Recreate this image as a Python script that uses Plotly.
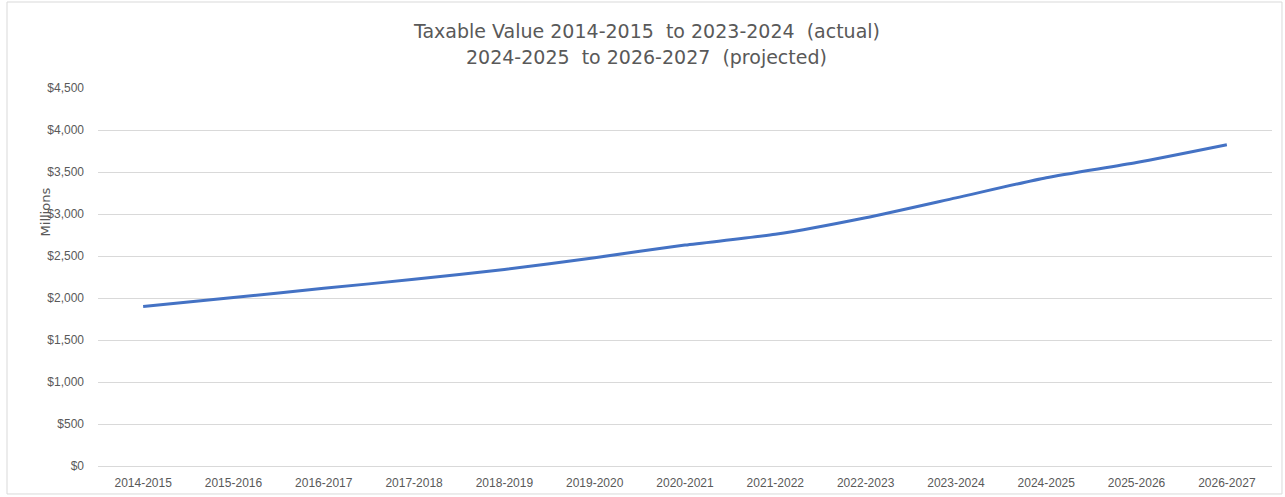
import plotly.graph_objects as go

# Fiscal years and taxable value (millions of dollars)
fiscal_years = [
    "2014-2015", "2015-2016", "2016-2017", "2017-2018", "2018-2019",
    "2019-2020", "2020-2021", "2021-2022", "2022-2023", "2023-2024",
    "2024-2025", "2025-2026", "2026-2027",
]
taxable_value = [1900, 2005, 2115, 2222, 2340, 2480, 2630, 2758, 2955, 3192, 3432, 3612, 3824]

y_ticks = [0, 500, 1000, 1500, 2000, 2500, 3000, 3500, 4000, 4500]
y_tick_labels = ["$0", "$500", "$1,000", "$1,500", "$2,000", "$2,500",
                 "$3,000", "$3,500", "$4,000", "$4,500"]

title_lines = [
    "Taxable Value 2014-2015  to 2023-2024  (actual)",
    "2024-2025  to 2026-2027  (projected)",
]

text_gray = "#595959"
grid_gray = "#D9D9D9"

fig = go.Figure()
fig.add_trace(go.Scatter(
    x=fiscal_years,
    y=taxable_value,
    mode="lines",
    line=dict(color="#4472C4", width=3, shape="spline", smoothing=0.6),
    hoverinfo="x+y",
))

title_font = dict(family="DejaVu Sans, Verdana, sans-serif", size=19, color=text_gray)
annotations = [
    dict(
        text=line,
        xref="paper", yref="paper",
        x=0.4672, y=y_pos,
        xanchor="center", yanchor="middle",
        showarrow=False,
        font=title_font,
    )
    for line, y_pos in zip(title_lines, [1.1508, 1.082])
]
annotations.append(
    dict(
        text="Millions",
        xref="paper", yref="paper",
        x=-0.0439, y=0.672,
        xanchor="center", yanchor="middle",
        textangle=-90,
        showarrow=False,
        font=dict(family="DejaVu Sans, sans-serif", size=13, color=text_gray),
    )
)

fig.update_layout(
    width=1285,
    height=497,
    paper_bgcolor="white",
    plot_bgcolor="white",
    showlegend=False,
    margin=dict(l=98, r=13, t=88, b=31),
    font=dict(family="Liberation Sans, Arial, sans-serif", size=12, color=text_gray),
    xaxis=dict(
        type="category",
        automargin=False,
        showgrid=False,
        showline=True,
        linecolor=grid_gray,
        linewidth=1,
        ticks="",
        ticklabelstandoff=6,
        tickfont=dict(size=12, color=text_gray),
        range=[-0.5, len(fiscal_years) - 0.5],
        fixedrange=True,
    ),
    yaxis=dict(
        automargin=False,
        range=[0, 4500],
        tickvals=y_ticks,
        ticktext=y_tick_labels,
        showgrid=True,
        gridcolor=grid_gray,
        gridwidth=1,
        zeroline=False,
        showline=False,
        ticks="",
        ticklabelstandoff=13,
        tickfont=dict(size=12, color=text_gray),
        fixedrange=True,
    ),
    annotations=annotations,
    shapes=[
        dict(
            type="rect", xref="paper", yref="paper",
            x0=-0.0775, x1=1.0085, y0=-0.074, y1=1.2275,
            line=dict(color="#D9D9D9", width=1),
            fillcolor="rgba(0,0,0,0)",
            layer="below",
        )
    ],
)

fig.write_html("out.html")
